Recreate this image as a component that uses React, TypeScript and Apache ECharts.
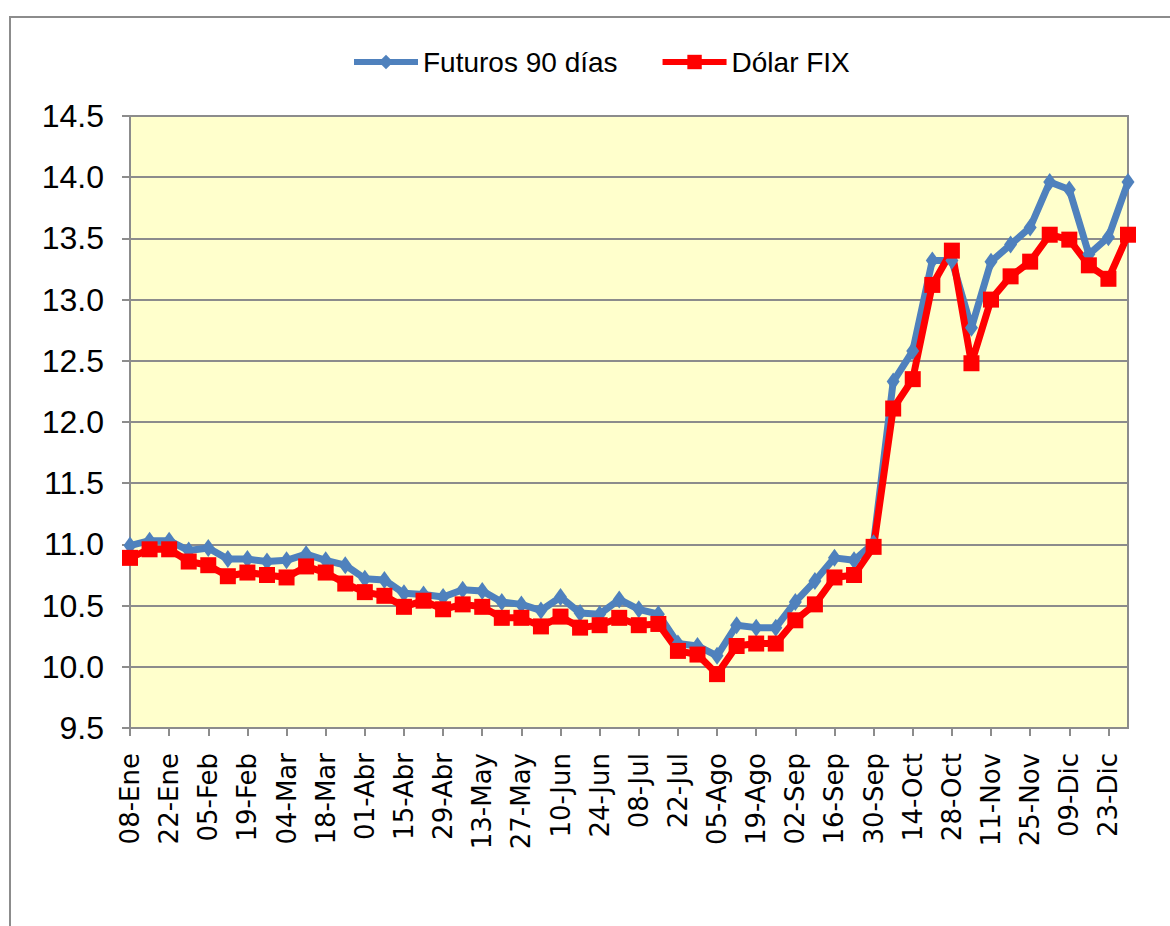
import React, { useEffect, useRef } from "react";
import * as echarts from "echarts";

const categories = [
  "08-Ene", "15-Ene", "22-Ene", "29-Ene", "05-Feb", "12-Feb", "19-Feb", "26-Feb",
  "04-Mar", "11-Mar", "18-Mar", "25-Mar", "01-Abr", "08-Abr", "15-Abr", "22-Abr",
  "29-Abr", "06-May", "13-May", "20-May", "27-May", "03-Jun", "10-Jun", "17-Jun",
  "24-Jun", "01-Jul", "08-Jul", "15-Jul", "22-Jul", "29-Jul", "05-Ago", "12-Ago",
  "19-Ago", "26-Ago", "02-Sep", "09-Sep", "16-Sep", "23-Sep", "30-Sep", "07-Oct",
  "14-Oct", "21-Oct", "28-Oct", "04-Nov", "11-Nov", "18-Nov", "25-Nov", "02-Dic",
  "09-Dic", "16-Dic", "23-Dic", "30-Dic",
];

const futuros90 = [
  10.99, 11.03, 11.03, 10.95, 10.97, 10.88, 10.88, 10.86, 10.87, 10.92, 10.87, 10.83,
  10.72, 10.71, 10.6, 10.59, 10.57, 10.63, 10.62, 10.53, 10.51, 10.46, 10.57, 10.44,
  10.43, 10.55, 10.47, 10.43, 10.19, 10.17, 10.09, 10.34, 10.32, 10.32, 10.53, 10.7,
  10.89, 10.87, 11.01, 12.33, 12.58, 13.32, 13.32, 12.77, 13.31, 13.45, 13.59, 13.96,
  13.9, 13.37, 13.51, 13.96,
];

const dolarFix = [
  10.89, 10.96, 10.96, 10.86, 10.83, 10.74, 10.77, 10.75, 10.73, 10.82, 10.77, 10.68,
  10.61, 10.58, 10.49, 10.54, 10.47, 10.51, 10.49, 10.4, 10.4, 10.33, 10.41, 10.32,
  10.34, 10.4, 10.34, 10.35, 10.13, 10.1, 9.94, 10.17, 10.19, 10.19, 10.38, 10.51,
  10.73, 10.75, 10.98, 12.11, 12.35, 13.12, 13.4, 12.48, 13.0, 13.19, 13.31, 13.53,
  13.49, 13.28, 13.17, 13.53,
];

const seriesNames = ["Futuros 90 días", "Dólar FIX"];

export default function App() {
  const ref = useRef<HTMLDivElement>(null);

  useEffect(() => {
    if (!ref.current) return;
    const chart = echarts.init(ref.current, undefined, { renderer: "svg" });
    const sans = "'Liberation Sans', Arial, sans-serif";
    chart.setOption({
      animation: false,
      backgroundColor: "#ffffff",
      graphic: [
        {
          type: "rect",
          shape: { x: 10, y: 17, width: 1300, height: 1100 },
          style: { fill: "none", stroke: "#8c8c8c", lineWidth: 2 },
          silent: true,
        },
      ],
      legend: {
        top: 43,
        left: 346,
        itemWidth: 64,
        itemHeight: 18,
        itemGap: 42,
        textStyle: { fontFamily: sans, fontSize: 28, color: "#000", padding: [0, 0, 0, 0] },
        lineStyle: { width: 6 },
        data: seriesNames,
      },
      grid: {
        left: 130,
        top: 116,
        width: 998,
        height: 612,
        show: true,
        backgroundColor: "#FFFFCC",
        borderColor: "#8c8c8c",
        borderWidth: 2,
      },
      xAxis: {
        type: "category",
        data: categories,
        boundaryGap: false,
        axisLine: { show: true, lineStyle: { color: "#8c8c8c", width: 2 } },
        axisTick: { show: true, interval: 1, length: 8, lineStyle: { color: "#8c8c8c", width: 2 } },
        axisLabel: {
          interval: 1,
          rotate: 90,
          margin: 25,
          fontFamily: "'DejaVu Sans', sans-serif",
          fontSize: 26,
          color: "#000",
        },
        splitLine: { show: false },
      },
      yAxis: {
        type: "value",
        min: 9.5,
        max: 14.5,
        interval: 0.5,
        axisLine: { show: true, lineStyle: { color: "#8c8c8c", width: 2 } },
        axisTick: { show: true, length: 8, lineStyle: { color: "#8c8c8c", width: 2 } },
        axisLabel: {
          margin: 26,
          fontFamily: sans,
          fontSize: 32,
          color: "#000",
          formatter: (v: number) => v.toFixed(1),
        },
        splitLine: { show: true, lineStyle: { color: "#8c8c8c", width: 2 } },
      },
      series: [
        {
          name: seriesNames[0],
          type: "line",
          data: futuros90,
          showAllSymbol: true,
          symbol: "diamond",
          symbolSize: [13, 18],
          itemStyle: { color: "#4F81BD" },
          lineStyle: { color: "#4F81BD", width: 7 },
        },
        {
          name: seriesNames[1],
          type: "line",
          data: dolarFix,
          showAllSymbol: true,
          symbol: "rect",
          symbolSize: 16,
          itemStyle: { color: "#FF0000" },
          lineStyle: { color: "#FF0000", width: 7 },
        },
      ],
    });
    return () => chart.dispose();
  }, []);

  return (
    <div
      ref={ref}
      style={{ position: "fixed", left: 0, top: 0, width: 1170, height: 926 }}
    />
  );
}
